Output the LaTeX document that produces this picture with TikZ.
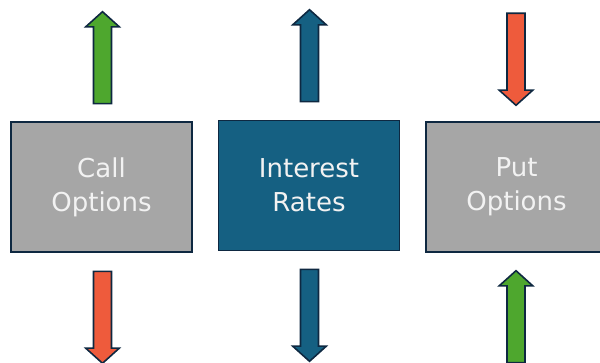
\documentclass[tikz,border=0pt]{standalone}
\usepackage{fontspec}
\setmainfont{DejaVu Sans}
\usepackage{tikz}
\usetikzlibrary{shapes.arrows}
\definecolor{edgenavy}{HTML}{0E2841}
\definecolor{optgray}{HTML}{A6A6A6}
\definecolor{rateblue}{HTML}{156082}
\definecolor{risegreen}{HTML}{4EA72E}
\definecolor{fallred}{HTML}{EE5B3C}
\definecolor{labelwhite}{HTML}{F2F2F2}
\tikzset{factor/.style={rectangle,draw=edgenavy,line width=1.6pt,minimum width=181pt,minimum height=130pt,align=center,text=labelwhite,font=\fontsize{26}{34}\selectfont}}
\tikzset{move/.style={single arrow,draw=edgenavy,line width=1.6pt,minimum height=92pt,minimum width=0pt,inner xsep=0pt,inner ysep=8.2pt,single arrow head extend=7.8pt,single arrow head indent=0pt,single arrow tip angle=96,anchor=tail}}

\begin{document}
\begin{tikzpicture}[x=1pt,y=1pt]
\useasboundingbox (0,0) rectangle (600,362);
% the three boxes
\node[factor,fill=optgray] (call) at (101.5,175) {Call\\Options};
\node[factor,fill=rateblue] (rates) at (309,176.5) {Interest\\Rates};
\node[factor,fill=optgray] (put) at (516.5,175) {Put\\Options};
% block arrows above and below each box, placed by their tails
\foreach \name/\x/\y/\dir/\col in {callup/102.5/257.5/90/risegreen,
	ratesup/309.5/259.5/90/rateblue,
	putdown/516/349.5/-90/fallred,
	calldown/102.5/91.5/-90/fallred,
	ratesdown/309.5/93.5/-90/rateblue,
	putup/516/-1.5/90/risegreen} {
	\node[move,fill=\col,rotate=\dir] (\name) at (\x,\y) {};
}
\end{tikzpicture}
\end{document}
